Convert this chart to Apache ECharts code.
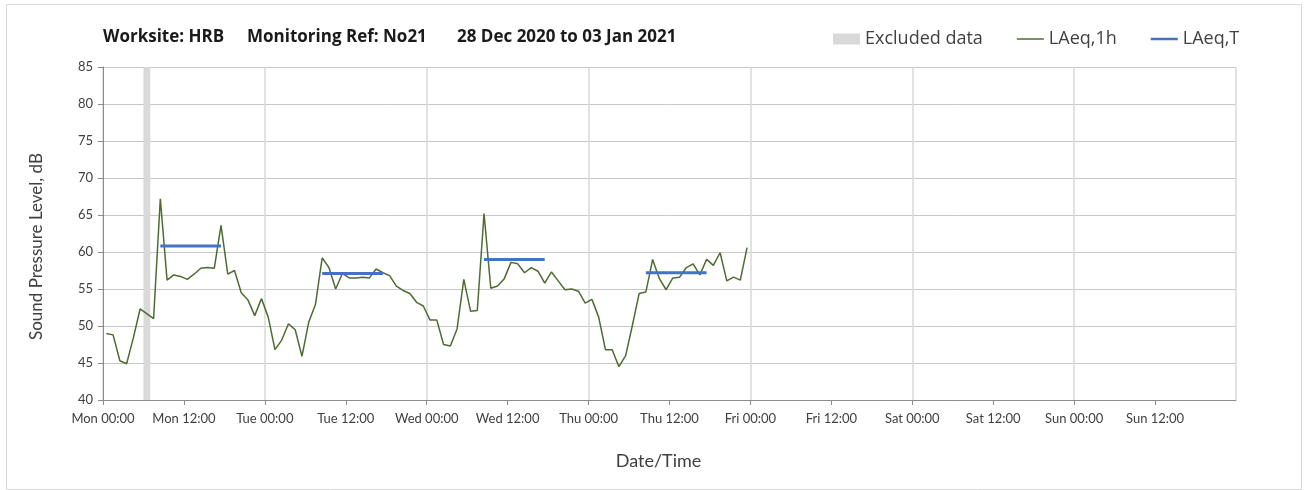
<!DOCTYPE html>
<html>
<head>
<meta charset="utf-8">
<title>Noise monitoring N021</title>
<script src="https://cdn.jsdelivr.net/npm/echarts@6/dist/echarts.min.js"></script>
<style>
  html, body { margin: 0; padding: 0; background: #fff; }
  #chart { width: 1304px; height: 490px; }
</style>
</head>
<body>
<div id="chart"></div>
<script>
// Hourly LAeq,1h values from Mon 00:00, one per hour (null = excluded hour)
var laeq1h = [
    49.0, 48.8, 45.3, 44.9, 48.4, 52.3, null, 51.0, 67.2, 56.2, 56.9, 56.7,
    56.3, 57.0, 57.8, 57.9, 57.8, 63.6, 57.0, 57.5, 54.5, 53.5, 51.4, 53.7,
    51.2, 46.8, 48.1, 50.3, 49.5, 45.9, 50.5, 52.9, 59.2, 57.9, 55.0, 57.1,
    56.5, 56.5, 56.6, 56.5, 57.7, 57.2, 56.8, 55.4, 54.8, 54.4, 53.2, 52.7,
    50.8, 50.8, 47.5, 47.3, 49.6, 56.3, 52.0, 52.1, 65.2, 55.1, 55.4, 56.4,
    58.6, 58.4, 57.2, 57.9, 57.4, 55.8, 57.3, 56.1, 54.9, 55.0, 54.7, 53.1,
    53.6, 51.2, 46.8, 46.8, 44.5, 46.0, 50.1, 54.4, 54.6, 59.0, 56.4, 54.9,
    56.5, 56.6, 57.9, 58.4, 56.9, 59.0, 58.2, 59.9, 56.1, 56.6, 56.2, 60.6
];

// LAeq,T daytime periods: first and last hour index, level
var periodStart = [8, 32, 56, 80];
var periodEnd = [17, 41, 65, 89];
var periodLevel = [60.8, 57.1, 59.0, 57.2];

// Excluded hours (start hour, end hour)
var excludedStart = [6];
var excludedEnd = [7];

var tickLabels = [
    'Mon 00:00', 'Mon 12:00', 'Tue 00:00', 'Tue 12:00', 'Wed 00:00', 'Wed 12:00',
    'Thu 00:00', 'Thu 12:00', 'Fri 00:00', 'Fri 12:00', 'Sat 00:00', 'Sat 12:00',
    'Sun 00:00', 'Sun 12:00', 'Mon 00:00'
];

var titleParts = ['Worksite: HRB', 'Monitoring Ref: No21', '28 Dec 2020 to 03 Jan 2021'];

var FONT = 'Lato, "Open Sans", sans-serif';
var HEAD_FONT = '"Open Sans", Lato, sans-serif';

// build series data, points sit at the middle of each hour
var lineData = laeq1h.map(function (v, i) {
    return [i + 0.5, v];
});

var periodData = [];
periodStart.forEach(function (s, i) {
    periodData.push([s + 0.5, periodLevel[i]]);
    periodData.push([periodEnd[i] + 0.5, periodLevel[i]]);
    periodData.push([periodEnd[i] + 1, null]);
});

var excludedAreas = excludedStart.map(function (s, i) {
    return [{ xAxis: s }, { xAxis: excludedEnd[i] }];
});

var titleLeft = [103, 247, 457];
var titles = titleParts.map(function (t, i) {
    return {
        text: t,
        left: titleLeft[i],
        top: 29,
        padding: 0,
        textStyle: { fontFamily: HEAD_FONT, fontSize: 17, fontWeight: 'bold', color: '#1a1a1a' }
    };
});

var chart = echarts.init(document.getElementById('chart'));

var options = {
    animation: false,
    textStyle: { fontFamily: FONT },
    title: titles,
    graphic: [{
        type: 'rect',
        left: 4, top: 2,
        shape: { width: 1295, height: 485 },
        style: { fill: 'none', stroke: '#d9d9d9', lineWidth: 1 },
        silent: true
    }],
    legend: {
        left: 833,
        top: 30,
        padding: 0,
        itemWidth: 27,
        itemHeight: 11,
        itemGap: 34,
        textStyle: { fontFamily: HEAD_FONT, fontSize: 18, color: '#404040' },
        data: [
            { name: 'Excluded data', icon: 'rect' },
            { name: 'LAeq,1h', icon: 'path://M0,0H27V1.5H0Z' },
            { name: 'LAeq,T', icon: 'path://M0,0H27V2.5H0Z' }
        ]
    },
    grid: { left: 103, right: 68, top: 67, bottom: 90, containLabel: false },
    xAxis: [{
        type: 'value',
        min: 0,
        max: 168,
        interval: 12,
        name: 'Date/Time',
        nameLocation: 'middle',
        nameGap: 52,
        nameTextStyle: { fontFamily: FONT, fontSize: 18, color: '#404040', padding: [0, 22, 0, 0] },
        axisLine: { lineStyle: { color: '#8c8c8c' } },
        axisTick: { length: 5, lineStyle: { color: '#8c8c8c' } },
        axisLabel: {
            fontFamily: FONT,
            fontSize: 13,
            color: '#404040',
            margin: 12,
            showMaxLabel: false,
            formatter: function (v) { return tickLabels[Math.round(v / 12)]; }
        },
        splitLine: { show: false }
    }, {
        type: 'value',
        min: 0,
        max: 168,
        interval: 24,
        position: 'bottom',
        axisLine: { show: false },
        axisTick: { show: false },
        axisLabel: { show: false },
        splitLine: { show: true, lineStyle: { color: '#d9d9d9', width: 1.5 } }
    }],
    yAxis: {
        type: 'value',
        min: 40,
        max: 85,
        interval: 5,
        name: 'Sound Pressure Level, dB',
        nameLocation: 'middle',
        nameGap: 58,
        nameTextStyle: { fontFamily: FONT, fontSize: 17, color: '#404040', padding: [0, 26, 0, 0] },
        axisLine: { show: true, lineStyle: { color: '#8c8c8c' } },
        axisTick: { show: true, length: 5, lineStyle: { color: '#8c8c8c' } },
        axisLabel: { fontFamily: FONT, fontSize: 13, color: '#404040', margin: 10 },
        splitLine: { lineStyle: { color: '#c8c8c8', width: 1 } }
    },
    series: [
        {
            name: 'Excluded data',
            type: 'line',
            xAxisIndex: 0,
            data: [],
            color: '#d9d9d9',
            symbol: 'none',
            markArea: {
                silent: true,
                itemStyle: { color: '#d9d9d9' },
                data: excludedAreas
            }
        },
        {
            name: 'LAeq,1h',
            type: 'line',
            xAxisIndex: 0,
            data: lineData,
            connectNulls: true,
            symbol: 'none',
            color: '#4f6b32',
            lineStyle: { color: '#4f6b32', width: 1.5 },
            z: 3
        },
        {
            name: 'LAeq,T',
            type: 'line',
            xAxisIndex: 0,
            data: periodData,
            symbol: 'none',
            color: '#4472c4',
            lineStyle: { color: '#4472c4', width: 3 },
            z: 4
        }
    ]
};

chart.setOption(options);

window.addEventListener('resize', function () {
    chart.resize();
});
</script>
</body>
</html>
